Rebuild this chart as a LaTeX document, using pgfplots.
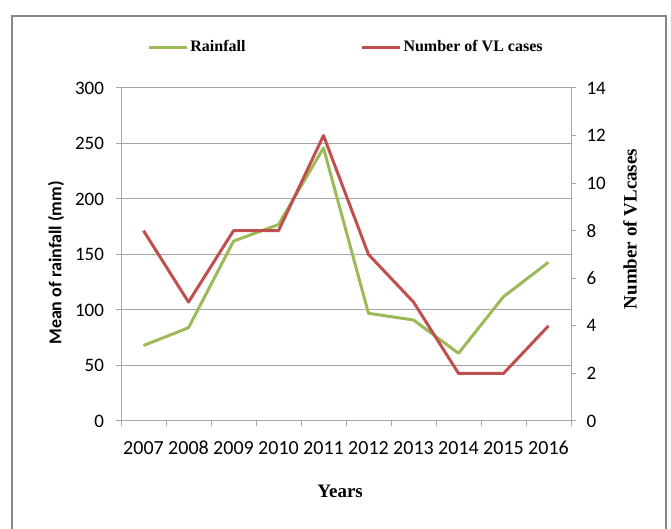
\documentclass[border=0pt]{standalone}
\usepackage{pgfplots}
\pgfplotsset{compat=1.18}
\usepackage{fontspec}
\setmainfont{Liberation Serif}
\newfontfamily\calibri{Carlito}
\definecolor{rainG}{RGB}{155,187,89}
\definecolor{vlR}{RGB}{192,80,77}
\definecolor{axG}{RGB}{166,166,166}
\definecolor{frameG}{RGB}{134,134,134}
\pgfplotsset{
  common/.style={
    at={(121pt,108pt)}, anchor=south west,
    scale only axis, width=450pt, height=333pt,
    xmin=-0.5, xmax=9.5,
    axis line style={axG, line width=1pt},
    tick style={axG, line width=1pt},
    tick align=outside, major tick length=5pt, minor tick length=5pt,
    tick label style={font=\calibri\fontsize{19}{21}\selectfont, black},
    /pgf/number format/assume math mode=true,
  }
}
\begin{document}
\begin{tikzpicture}[x=1pt,y=1pt]
\path[use as bounding box] (0,0) rectangle (671,529);
\draw[frameG, line width=2pt] (12,-2) -- (12,513) -- (666,513) -- (666,-2);
\begin{axis}[
  common,
  ymin=0, ymax=300,
  axis x line*=bottom, axis y line*=left,
  xtick={0,1,2,3,4,5,6,7,8,9},
  xticklabels={2007,2008,2009,2010,2011,2012,2013,2014,2015,2016},
  minor xtick={-0.5,0.5,1.5,2.5,3.5,4.5,5.5,6.5,7.5,8.5,9.5},
  major x tick style={draw=none},
  ytick={0,50,100,150,200,250,300},
  yticklabel style={xshift=-8.5pt},
  xticklabel style={anchor=north, yshift=-12pt, text height=13pt, text depth=0pt, font=\calibri\fontsize{20}{22}\selectfont},
  ymajorgrids, grid style={axG, line width=1pt},
  ylabel={Mean of rainfall (mm)},
  ylabel style={at={(axis description cs:-0.1444,0.4745)}, anchor=center, font=\calibri\bfseries\fontsize{18}{20}\selectfont},
  xlabel={Years},
  xlabel style={at={(axis description cs:0.487,-0.21)}, anchor=center, font=\bfseries\fontsize{19}{21}\selectfont},
]
\addplot[rainG, line width=3pt, line join=round] coordinates {
(0,68) (1,84) (2,162) (3,177) (4,246) (5,97) (6,91) (7,61) (8,112) (9,143)};
\end{axis}
\begin{axis}[
  common,
  ymin=0, ymax=14,
  axis x line=none, axis y line*=right,
  ytick={0,2,4,6,8,10,12,14},
  yticklabel style={xshift=7pt},
  ylabel={Number of VLcases},
  ylabel style={at={(axis description cs:1.131,0.5766)}, anchor=center, font=\bfseries\fontsize{19}{21}\selectfont},
  legend style={at={(axis description cs:0.50,1.123)}, anchor=center, draw=none, fill=none,
    font=\bfseries\fontsize{16}{18}\selectfont, legend columns=2,
    /tikz/every even column/.append style={column sep=113pt}},
  legend image code/.code={\draw[#1] (0pt,0pt) -- (38pt,0pt);},
]
\addlegendimage{rainG, line width=3pt}
\addlegendentry{Rainfall}
\addplot[vlR, line width=3pt, line join=round] coordinates {
(0,8) (1,5) (2,8) (3,8) (4,12) (5,7) (6,5) (7,2) (8,2) (9,4)};
\addlegendentry{Number of VL cases}
\end{axis}
\end{tikzpicture}
\end{document}
